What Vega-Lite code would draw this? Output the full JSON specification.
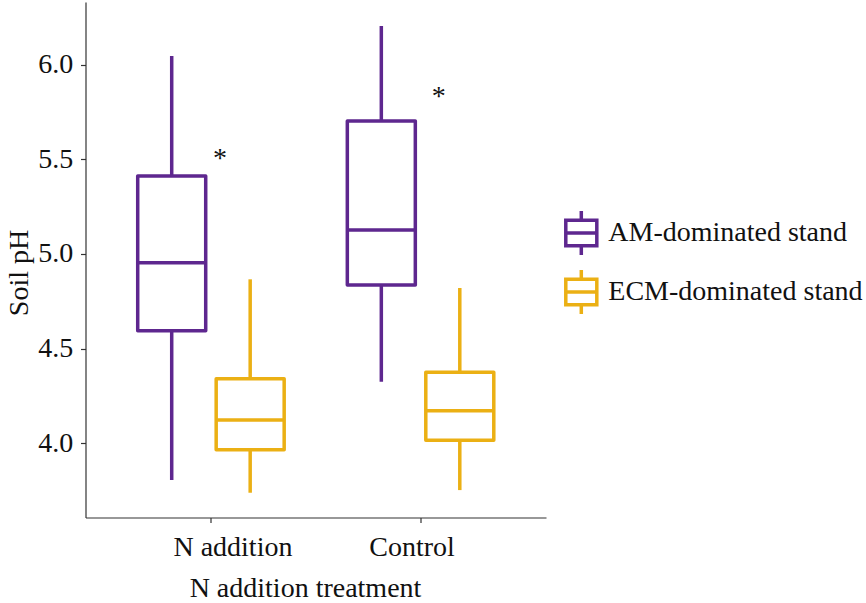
{
  "$schema": "https://vega.github.io/schema/vega-lite/v6.json",
  "width": 460.5,
  "height": 515.5,
  "autosize": {"type": "none"},
  "padding": {"left": 85.5, "top": 2, "right": 320, "bottom": 85.5},
  "background": "white",
  "config": {
    "view": {"stroke": null},
    "font": "Liberation Serif",
    "text": {"font": "Liberation Serif"}
  },
  "datasets": {
    "boxes": [
      {"treatment": "N addition", "stand": "AM-dominated stand", "lower": 3.804, "q1": 4.594, "median": 4.954, "q3": 5.413, "upper": 6.048},
      {"treatment": "N addition", "stand": "ECM-dominated stand", "lower": 3.737, "q1": 3.965, "median": 4.122, "q3": 4.340, "upper": 4.866},
      {"treatment": "Control", "stand": "AM-dominated stand", "lower": 4.324, "q1": 4.836, "median": 5.127, "q3": 5.704, "upper": 6.206},
      {"treatment": "Control", "stand": "ECM-dominated stand", "lower": 3.751, "q1": 4.014, "median": 4.171, "q3": 4.374, "upper": 4.820}
    ],
    "stars": [
      {"treatment": "N addition", "label": "*", "y": 5.46},
      {"treatment": "Control", "label": "*", "y": 5.79}
    ]
  },
  "layer": [
    {
      "data": {"name": "boxes"},
      "mark": {"type": "rule", "strokeWidth": 3.5},
      "encoding": {
        "x": {
          "field": "treatment", "type": "nominal", "sort": ["N addition", "Control"],
          "title": "N addition treatment",
          "scale": {"paddingInner": 0.2513, "paddingOuter": 0.2241},
          "axis": {
            "domainColor": "#333333", "domainWidth": 1.2,
            "tickColor": "#333333", "tickWidth": 1.2, "tickSize": 5,
            "labelAngle": 0, "labelFontSize": 28, "labelColor": "#111111",
            "labelFont": "Liberation Serif",
            "labelBaseline": "alphabetic", "labelPadding": 32.5,
            "labelOffset": {"condition": {"test": "datum.value === 'N addition'", "value": 22}, "value": -8.5},
            "grid": false,
            "titleFontSize": 28, "titleFontWeight": "normal", "titleColor": "#111111",
            "titleFont": "Liberation Serif",
            "titleX": 219.5, "titleY": 79.2, "titleAlign": "center", "titleBaseline": "alphabetic"
          }
        },
        "xOffset": {
          "field": "stand", "type": "nominal",
          "sort": ["AM-dominated stand", "ECM-dominated stand"],
          "scale": {"paddingInner": 0, "paddingOuter": 0}
        },
        "y": {
          "field": "lower", "type": "quantitative", "title": "Soil pH",
          "scale": {"domain": [3.606, 6.333], "nice": false, "zero": false},
          "axis": {
            "values": [4.0, 4.5, 5.0, 5.5, 6.0], "format": ".1f",
            "domainColor": "#333333", "domainWidth": 1.2,
            "tickColor": "#333333", "tickWidth": 1.2, "tickSize": 5,
            "labelFontSize": 28, "labelColor": "#111111", "labelFont": "Liberation Serif",
            "labelPadding": 7.8, "grid": false,
            "titleFontSize": 28, "titleFontWeight": "normal", "titleColor": "#111111",
            "titleFont": "Liberation Serif",
            "titleAngle": -90, "titleX": -58.5, "titleY": 270.5,
            "titleAlign": "center", "titleBaseline": "alphabetic"
          }
        },
        "y2": {"field": "upper"},
        "stroke": {
          "field": "stand", "type": "nominal",
          "scale": {"domain": ["AM-dominated stand", "ECM-dominated stand"], "range": ["#5E278F", "#EBB014"]},
          "legend": {
            "orient": "none", "legendX": 471.8, "legendY": 207, "title": null,
            "padding": 0,
            "symbolType": "M0,-1V-0.575M-0.705,-0.575H0.705V0.575H-0.705ZM-0.705,0H0.705M0,0.575V1",
            "symbolSize": 1936, "symbolStrokeWidth": 3.5, "symbolFillColor": "white",
            "labelFontSize": 28, "labelFont": "Liberation Serif", "labelColor": "#111111",
            "labelOffset": 3, "rowPadding": 1, "labelLimit": 400
          }
        }
      }
    },
    {
      "data": {"name": "boxes"},
      "mark": {"type": "bar", "fill": "white", "strokeWidth": 3.5, "size": 68, "strokeJoin": "round"},
      "encoding": {
        "x": {"field": "treatment", "type": "nominal", "sort": ["N addition", "Control"], "title": "N addition treatment"},
        "xOffset": {"field": "stand", "type": "nominal", "sort": ["AM-dominated stand", "ECM-dominated stand"]},
        "y": {"field": "q1", "type": "quantitative", "title": "Soil pH"},
        "y2": {"field": "q3"},
        "stroke": {"field": "stand", "type": "nominal"}
      }
    },
    {
      "data": {"name": "boxes"},
      "mark": {"type": "bar", "fill": "white", "strokeWidth": 3.5, "size": 68},
      "encoding": {
        "x": {"field": "treatment", "type": "nominal", "sort": ["N addition", "Control"], "title": "N addition treatment"},
        "xOffset": {"field": "stand", "type": "nominal", "sort": ["AM-dominated stand", "ECM-dominated stand"]},
        "y": {"field": "median", "type": "quantitative", "title": "Soil pH"},
        "y2": {"field": "median"},
        "stroke": {"field": "stand", "type": "nominal"}
      }
    },
    {
      "data": {"name": "stars"},
      "transform": [{"filter": "datum.treatment === 'N addition'"}],
      "mark": {"type": "text", "fontSize": 28, "font": "Liberation Serif", "color": "#111111", "baseline": "alphabetic", "align": "center", "dx": 9},
      "encoding": {
        "x": {"field": "treatment", "type": "nominal", "sort": ["N addition", "Control"], "title": "N addition treatment"},
        "y": {"field": "y", "type": "quantitative", "title": "Soil pH"},
        "text": {"field": "label"}
      }
    },
    {
      "data": {"name": "stars"},
      "transform": [{"filter": "datum.treatment === 'Control'"}],
      "mark": {"type": "text", "fontSize": 28, "font": "Liberation Serif", "color": "#111111", "baseline": "alphabetic", "align": "center", "dx": 18.3},
      "encoding": {
        "x": {"field": "treatment", "type": "nominal", "sort": ["N addition", "Control"], "title": "N addition treatment"},
        "y": {"field": "y", "type": "quantitative", "title": "Soil pH"},
        "text": {"field": "label"}
      }
    }
  ]
}
